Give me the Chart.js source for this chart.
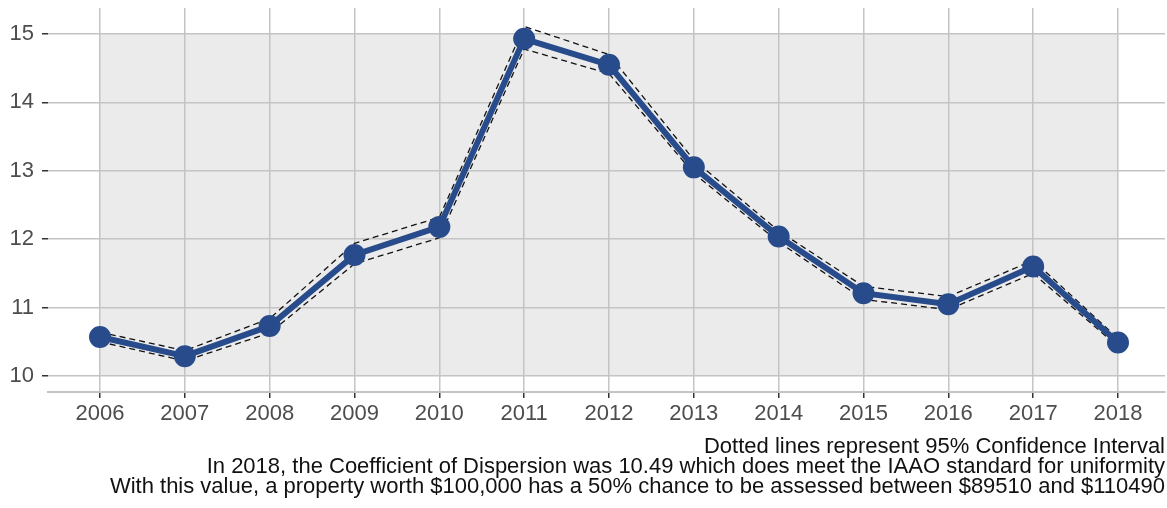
<!DOCTYPE html>
<html>
<head>
<meta charset="utf-8">
<script src="https://cdn.jsdelivr.net/npm/chart.js@4"></script>
<style>
  html, body { margin: 0; padding: 0; background: #fff; }
  #wrap { width: 1167px; height: 508px; }
</style>
</head>
<body>
<div id="wrap"><canvas id="codChart"></canvas></div>
<script>
const years = [2006, 2007, 2008, 2009, 2010, 2011, 2012, 2013, 2014, 2015, 2016, 2017, 2018];
const codValues = [10.57, 10.29, 10.73, 11.77, 12.18, 14.93, 14.55, 13.05, 12.04, 11.21, 11.05, 11.60, 10.49];
const upperCI = [10.64, 10.37, 10.84, 11.94, 12.32, 15.11, 14.70, 13.16, 12.12, 11.31, 11.16, 11.69, 10.55];
const lowerCI = [10.50, 10.22, 10.63, 11.64, 12.02, 14.78, 14.42, 12.96, 11.96, 11.12, 10.97, 11.50, 10.43];
const yTicks = [10, 11, 12, 13, 14, 15];
const captionLines = [
  'Dotted lines represent 95% Confidence Interval',
  'In 2018, the Coefficient of Dispersion was 10.49 which does meet the IAAO standard for uniformity',
  'With this value, a property worth $100,000 has a 50% chance to be assessed between $89510 and $110490'
];

const toPoints = vals => vals.map((v, i) => ({ x: years[i], y: v }));

// grey panel behind the data, spanning first..last year and 10..15
const panelFill = {
  id: 'panelFill',
  beforeDraw(chart) {
    const { ctx, scales: { x, y } } = chart;
    const left = x.getPixelForValue(years[0]);
    const right = x.getPixelForValue(years[years.length - 1]);
    const top = y.getPixelForValue(yTicks[yTicks.length - 1]);
    const bottom = y.getPixelForValue(yTicks[0]);
    ctx.save();
    ctx.fillStyle = '#ebebeb';
    ctx.fillRect(left, top, right - left, bottom - top);
    ctx.restore();
  }
};

const dashStyle = {
  borderColor: '#111',
  borderWidth: 1.3,
  borderDash: [6, 4],
  pointRadius: 0,
  fill: false,
  tension: 0
};

const gridStyle = { color: '#c4c4c4', lineWidth: 1.5, tickLength: 6, tickColor: '#333', tickWidth: 1.5 };

new Chart(document.getElementById('codChart'), {
  type: 'line',
  data: {
    datasets: [
      { label: 'Upper', data: toPoints(upperCI), ...dashStyle, order: 2 },
      { label: 'Lower', data: toPoints(lowerCI), ...dashStyle, order: 2 },
      {
        label: 'COD',
        data: toPoints(codValues),
        borderColor: '#284b8c',
        backgroundColor: '#284b8c',
        borderWidth: 6,
        pointRadius: 8,
        pointHoverRadius: 8,
        tension: 0,
        order: 1
      }
    ]
  },
  options: {
    responsive: true,
    maintainAspectRatio: false,
    animation: false,
    layout: { autoPadding: false, padding: { top: 8, right: 2, bottom: 11, left: 0 } },
    plugins: {
      legend: { display: false },
      tooltip: { enabled: false },
      title: {
        display: true,
        position: 'bottom',
        align: 'end',
        text: captionLines,
        color: '#111',
        font: { family: 'Liberation Sans', size: 22, weight: 'normal', lineHeight: '20px' },
        padding: 0
      }
    },
    scales: {
      x: {
        type: 'linear',
        min: 2005.387,
        max: 2018.554,
        afterBuildTicks: axis => { axis.ticks = years.map(v => ({ value: v })); },
        afterFit: scale => {
          scale.height = 45;
          scale.paddingLeft = 0;
          scale.paddingRight = 0;
        },
        grid: gridStyle,
        border: { display: true, color: '#c4c4c4', width: 2 },
        ticks: {
          color: '#4d4d4d',
          padding: 3,
          maxRotation: 0,
          font: { family: 'Liberation Sans', size: 22 },
          callback: v => String(v)
        }
      },
      y: {
        min: 9.766,
        max: 15.38,
        afterBuildTicks: axis => { axis.ticks = yTicks.map(v => ({ value: v })); },
        afterFit: scale => {
          scale.width = 48;
          scale.paddingTop = 0;
          scale.paddingBottom = 0;
        },
        grid: gridStyle,
        border: { display: false },
        ticks: {
          color: '#4d4d4d',
          padding: 8,
          font: { family: 'Liberation Sans', size: 22 }
        }
      }
    }
  },
  plugins: [panelFill]
});
</script>
</body>
</html>
